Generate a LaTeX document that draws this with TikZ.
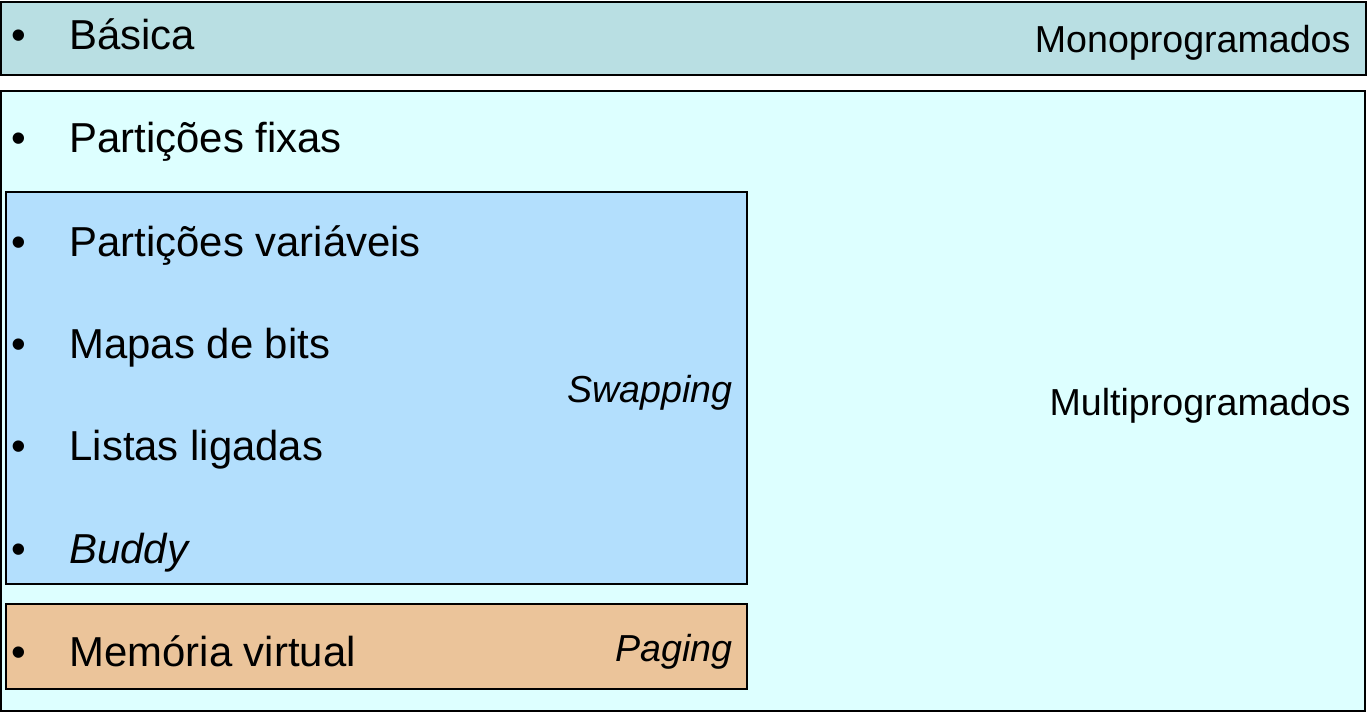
\documentclass[tikz,border=0pt]{standalone}
\usepackage{fontspec}
\setmainfont{Liberation Sans}
\definecolor{monofill}{RGB}{185,223,227}
\definecolor{multifill}{RGB}{221,255,255}
\definecolor{swapfill}{RGB}{179,223,253}
\definecolor{pagefill}{RGB}{235,196,154}
\tikzset{every picture/.style={line width=0.75pt}}
\tikzset{
  item/.style={anchor=base west,inner sep=0.75pt,font=\fontsize{31.4}{36}\selectfont},
  dot/.style={anchor=base,inner sep=0.75pt,font=\fontsize{31.4}{36}\selectfont},
  tag/.style={anchor=base east,inner sep=0.75pt,font=\fontsize{28.2}{33}\selectfont},
  box/.style={draw=black,line width=1.5pt}
}

\begin{document}
\begin{tikzpicture}[x=0.75pt,y=0.75pt,yscale=-1,xscale=1]
        \useasboundingbox (0,0) rectangle (1367,713);

        %Shape: Rectangle [id:mono]
        \draw [box,fill=monofill] (1,2) rectangle (1366,75);
        %Shape: Rectangle [id:multi]
        \draw [box,fill=multifill] (1,91) rectangle (1365,711);
        %Shape: Rectangle [id:swap]
        \draw [box,fill=swapfill] (6,192) rectangle (747,584);
        %Shape: Rectangle [id:page]
        \draw [box,fill=pagefill] (6,604) rectangle (747,689);

        % Text Node
        \draw (19,50) node (b1) [dot] {•};
        \draw (68,50) node (basica) [item] {Básica};
        % Text Node
        \draw (19,153) node (b2) [dot] {•};
        \draw (68,153) node (fixas) [item] {Partições fixas};
        % Text Node
        \draw (19,256) node (b3) [dot] {•};
        \draw (68,256) node (variaveis) [item] {Partições variáveis};
        % Text Node
        \draw (19,358) node (b4) [dot] {•};
        \draw (68,358) node (mapas) [item] {Mapas de bits};
        % Text Node
        \draw (19,460) node (b5) [dot] {•};
        \draw (68,460) node (listas) [item] {Listas ligadas};
        % Text Node
        \draw (19,563) node (b6) [dot] {•};
        \draw (68,563) node (buddy) [item] {\itshape Buddy};
        % Text Node
        \draw (19,666) node (b7) [dot] {•};
        \draw (68,666) node (virtual) [item] {Memória virtual};

        % Text Node
        \draw (1352,53) node (mono) [tag] {Monoprogramados};
        % Text Node
        \draw (1352,415) node (multi) [tag] {Multiprogramados};
        % Text Node
        \draw (734,402) node (swapping) [tag] {\itshape Swapping};
        % Text Node
        \draw (734,661) node (paging) [tag] {\itshape Paging};
\end{tikzpicture}
\end{document}
